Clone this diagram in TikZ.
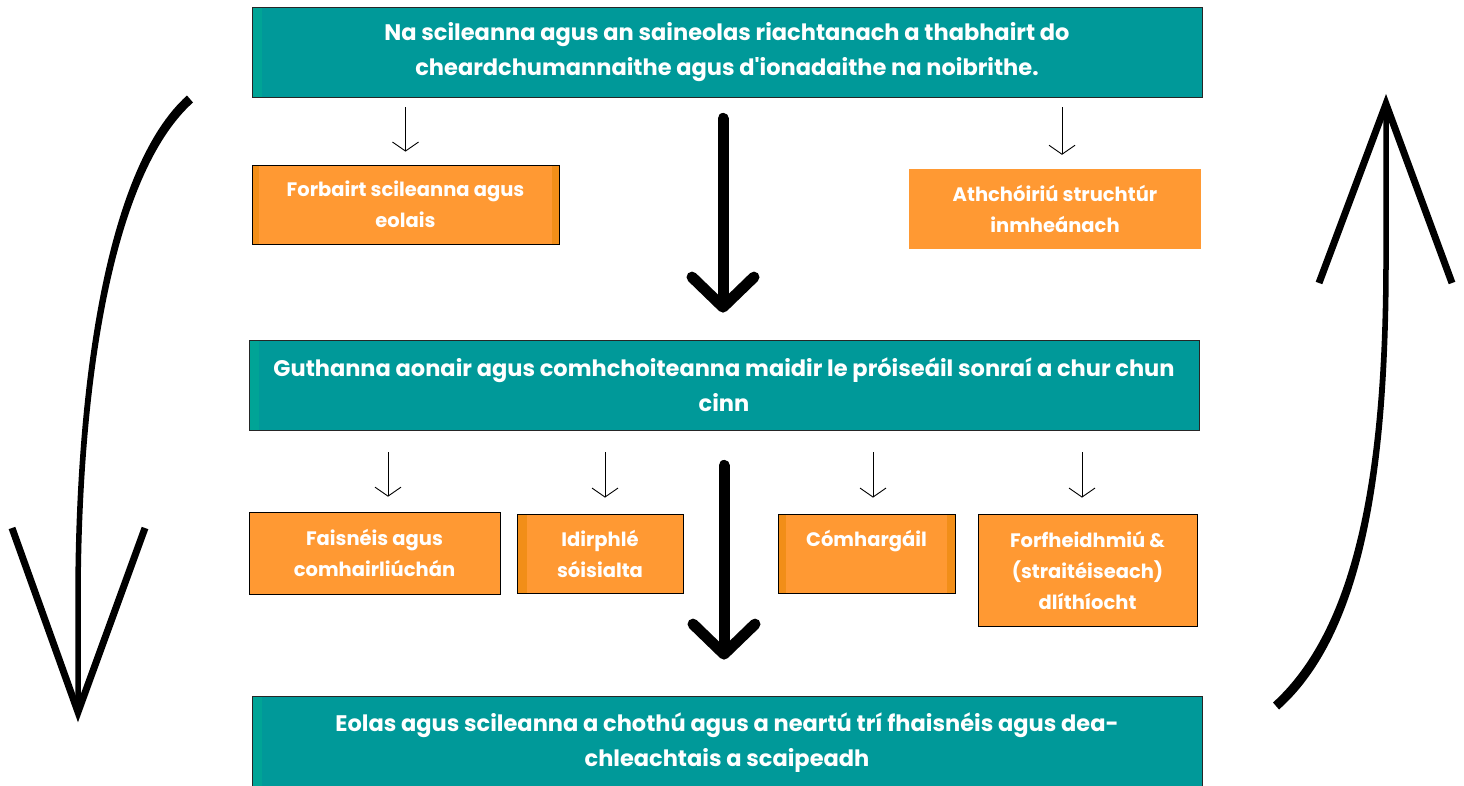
\documentclass[tikz,border=0pt]{standalone}
\usepackage{fontspec}
\setmainfont{Poppins}
\usetikzlibrary{arrows.meta, positioning}
\definecolor{tealc}{RGB}{0,153,153}
\definecolor{tealedge}{RGB}{0,164,150}
\definecolor{orangec}{RGB}{255,153,51}
\definecolor{orangeedge}{RGB}{242,142,24}
\newcommand{\straightquote}{\XeTeXglyph\XeTeXcharglyph"27\relax}

\begin{document}
\begin{tikzpicture}[x=1pt, y=-1pt,
	bigbox/.style={draw=black!85, line width=0.8pt, fill=tealc, text=white, align=center, inner sep=0pt,
		font=\bfseries\fontsize{22.5}{35}\selectfont, minimum width=950pt, minimum height=90pt,
		path picture={\fill[tealedge] (path picture bounding box.north west) rectangle ([xshift=10pt]path picture bounding box.south west);}},
	smallbox/.style={fill=orangec, text=white, align=center, inner sep=0pt,
		font=\bfseries\fontsize{19.5}{31}\selectfont},
	edged/.style={draw=black, line width=0.8pt,
		path picture={\fill[orangeedge] (path picture bounding box.north west) rectangle ([xshift=#1]path picture bounding box.south west);
			\fill[orangeedge] (path picture bounding box.north east) rectangle ([xshift=-#1]path picture bounding box.south east);}},
	thinarr/.style={-{Straight Barb[length=9pt,width=26pt]}, line width=0.9pt},
	bigarr/.style={-{Straight Barb[length=30pt,width=62pt,round]}, line width=11pt, line cap=round},
	sidehead/.style={line width=7pt}]
	\useasboundingbox (0,0) rectangle (1464,785);

	\node[bigbox] (top) at (727,52) {Na scileanna agus an saineolas riachtanach a thabhairt do\\cheardchumannaithe agus d\straightquote ionadaithe na noibrithe.};
	\node[smallbox, edged=7pt, minimum width=307pt, minimum height=79pt] (forb) at (405.5,204.5) {Forbairt scileanna agus\\eolais};
	\node[smallbox, minimum width=292pt, minimum height=80pt] (ath) at (1055,209) {Athchóiriú struchtúr\\inmheánach};

	\node[bigbox] (mid) at (724,385) {Guthanna aonair agus comhchoiteanna maidir le próiseáil sonraí a chur chun\\cinn};
	\node[smallbox, draw=black, line width=0.6pt, minimum width=251pt, minimum height=82pt] (fais) at (374.5,553) {Faisnéis agus\\comhairliúchán};
	\node[smallbox, edged=0pt, minimum width=166pt, minimum height=79pt,
		path picture={\fill[orangeedge] (path picture bounding box.north west) rectangle ([xshift=10pt]path picture bounding box.south west);}] (idir) at (600,553.5) {Idirphlé\\sóisialta};
	\node[smallbox, edged=8pt, minimum width=177pt, minimum height=79pt] (comh) at (866.5,553.5) {Cómhargáil\\\mbox{}};
	\node[smallbox, draw=black, line width=0.8pt, minimum width=219pt, minimum height=112pt] (forf) at (1087.5,570) {Forfheidhmiú \&\\(straitéiseach)\\dlíthíocht};

	\node[bigbox, minimum height=94pt] (bot) at (727,743) {Eolas agus scileanna a chothú agus a neartú trí fhaisnéis agus dea-\\chleachtais a scaipeadh};

	%small arrows:
	\draw[thinarr, shorten <=10pt, shorten >=13pt] (top.south -| forb.north) -- (forb.north);
	\draw[thinarr, shorten <=10pt, shorten >=14pt] ([xshift=7pt]top.south -| ath.north) -- ([xshift=7pt]ath.north);
	\draw[thinarr, shorten <=22pt, shorten >=15pt] ([xshift=13.5pt]mid.south -| fais.north) -- ([xshift=13.5pt]fais.north);
	\draw[thinarr, shorten <=22pt, shorten >=16pt] ([xshift=5pt]mid.south -| idir.north) -- ([xshift=5pt]idir.north);
	\draw[thinarr, shorten <=22pt, shorten >=16pt] ([xshift=6.5pt]mid.south -| comh.north) -- ([xshift=6.5pt]comh.north);
	\draw[thinarr, shorten <=22pt, shorten >=16pt] ([xshift=-5.5pt]mid.south -| forf.north) -- ([xshift=-5.5pt]forf.north);

	%big arrows:
	\draw[bigarr, shorten <=21pt, shorten >=27pt] ([xshift=-4pt]top.south) -- ([xshift=-4pt]top.south |- mid.north);
	\draw[bigarr, shorten <=35pt, shorten >=36pt] (mid.south) -- (mid.south |- bot.north);

	%side arrows (shafts taper)
	\fill (187,95.5) .. controls (107,167) and (75.25,380) .. (75.25,600) -- (75.25,712)
		-- (80.75,712) -- (80.75,600) .. controls (80.75,382) and (113,174) .. (193,102.5) -- cycle;
	\draw[sidehead] (12,528) -- (78,712) -- (145,528);
	\fill (1273,702.5) .. controls (1356,627) and (1383.25,470) .. (1383.25,260) -- (1383.25,104)
		-- (1388.75,104) -- (1388.75,260) .. controls (1388.75,472) and (1364,634) .. (1279,709.5) -- cycle;
	\draw[sidehead] (1319,283) -- (1386,104) -- (1452,283);
\end{tikzpicture}
\end{document}
